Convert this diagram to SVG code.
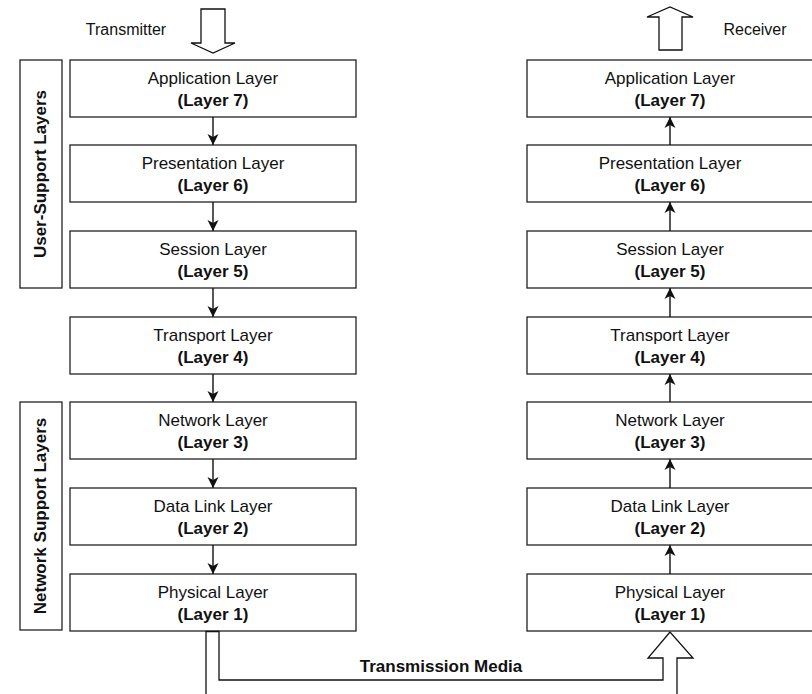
<svg xmlns="http://www.w3.org/2000/svg" width="812" height="694" viewBox="0 0 812 694">
<style>
.box{fill:#fff;stroke:#222;stroke-width:1.3}
.t{font-family:"Liberation Sans",Arial,sans-serif;font-size:17px;fill:#111;text-anchor:middle}
.b{font-weight:bold}
.c{stroke:#111;stroke-width:1.4;fill:none}
.big{fill:#fff;stroke:#111;stroke-width:1.3;stroke-linejoin:miter}
</style>
<defs>
<marker id="ah" markerWidth="12" markerHeight="12" viewBox="0 0 12 12" refX="11" refY="6" orient="auto" markerUnits="userSpaceOnUse">
<path d="M0,0.5 L11,6 L0,11.5 L3,6 Z" fill="#111"/>
</marker>
</defs>
<rect width="812" height="694" fill="#fff"/>

<g id="side-user">
<rect class="box" x="20" y="60" width="42" height="228"/>
<text class="t b" x="46" y="174" transform="rotate(-90 46 174)">User-Support Layers</text>
</g>
<g id="side-network">
<rect class="box" x="20" y="402" width="42" height="228"/>
<text class="t b" x="46" y="516" transform="rotate(-90 46 516)">Network Support Layers</text>
</g>

<g id="transmitter">
<path class="big" d="M201,9 H225 V43 H235 L213,53 L191,43 H201 Z"/>
<text class="t" x="126" y="35" style="font-size:16px">Transmitter</text>
</g>
<g id="receiver">
<path class="big" d="M659,50 V17 H647 L670,7 L693,17 H682 V50 Z"/>
<text class="t" x="755" y="35" style="font-size:16px">Receiver</text>
</g>

<g id="tx7"><rect class="box" x="70" y="60" width="286" height="57"/><text class="t" x="213" y="84">Application Layer</text><text class="t b" x="213" y="106">(Layer 7)</text></g>
<g id="tx6"><rect class="box" x="70" y="145" width="286" height="57"/><text class="t" x="213" y="169">Presentation Layer</text><text class="t b" x="213" y="191">(Layer 6)</text></g>
<g id="tx5"><rect class="box" x="70" y="231" width="286" height="57"/><text class="t" x="213" y="255">Session Layer</text><text class="t b" x="213" y="277">(Layer 5)</text></g>
<g id="tx4"><rect class="box" x="70" y="317" width="286" height="57"/><text class="t" x="213" y="341">Transport Layer</text><text class="t b" x="213" y="363">(Layer 4)</text></g>
<g id="tx3"><rect class="box" x="70" y="402" width="286" height="57"/><text class="t" x="213" y="426">Network Layer</text><text class="t b" x="213" y="448">(Layer 3)</text></g>
<g id="tx2"><rect class="box" x="70" y="488" width="286" height="57"/><text class="t" x="213" y="512">Data Link Layer</text><text class="t b" x="213" y="534">(Layer 2)</text></g>
<g id="tx1"><rect class="box" x="70" y="574" width="286" height="57"/><text class="t" x="213" y="598">Physical Layer</text><text class="t b" x="213" y="620">(Layer 1)</text></g>

<g id="rx7"><rect class="box" x="527" y="60" width="286" height="57"/><text class="t" x="670" y="84">Application Layer</text><text class="t b" x="670" y="106">(Layer 7)</text></g>
<g id="rx6"><rect class="box" x="527" y="145" width="286" height="57"/><text class="t" x="670" y="169">Presentation Layer</text><text class="t b" x="670" y="191">(Layer 6)</text></g>
<g id="rx5"><rect class="box" x="527" y="231" width="286" height="57"/><text class="t" x="670" y="255">Session Layer</text><text class="t b" x="670" y="277">(Layer 5)</text></g>
<g id="rx4"><rect class="box" x="527" y="317" width="286" height="57"/><text class="t" x="670" y="341">Transport Layer</text><text class="t b" x="670" y="363">(Layer 4)</text></g>
<g id="rx3"><rect class="box" x="527" y="402" width="286" height="57"/><text class="t" x="670" y="426">Network Layer</text><text class="t b" x="670" y="448">(Layer 3)</text></g>
<g id="rx2"><rect class="box" x="527" y="488" width="286" height="57"/><text class="t" x="670" y="512">Data Link Layer</text><text class="t b" x="670" y="534">(Layer 2)</text></g>
<g id="rx1"><rect class="box" x="527" y="574" width="286" height="57"/><text class="t" x="670" y="598">Physical Layer</text><text class="t b" x="670" y="620">(Layer 1)</text></g>

<g id="connectors">
<line class="c" x1="213" y1="117" x2="213" y2="145" marker-end="url(#ah)"/>
<line class="c" x1="213" y1="202" x2="213" y2="231" marker-end="url(#ah)"/>
<line class="c" x1="213" y1="288" x2="213" y2="317" marker-end="url(#ah)"/>
<line class="c" x1="213" y1="374" x2="213" y2="402" marker-end="url(#ah)"/>
<line class="c" x1="213" y1="459" x2="213" y2="488" marker-end="url(#ah)"/>
<line class="c" x1="213" y1="545" x2="213" y2="574" marker-end="url(#ah)"/>
<line class="c" x1="670" y1="145" x2="670" y2="117" marker-end="url(#ah)"/>
<line class="c" x1="670" y1="231" x2="670" y2="202" marker-end="url(#ah)"/>
<line class="c" x1="670" y1="317" x2="670" y2="288" marker-end="url(#ah)"/>
<line class="c" x1="670" y1="402" x2="670" y2="374" marker-end="url(#ah)"/>
<line class="c" x1="670" y1="488" x2="670" y2="459" marker-end="url(#ah)"/>
<line class="c" x1="670" y1="574" x2="670" y2="545" marker-end="url(#ah)"/>
<path id="media" class="big" d="M206,695 V631.5 H219 V680 H663 V658 H648 L670,632 L693,658 H677 V695"/>
<text class="t b" x="441" y="672">Transmission Media</text>
</g>
</svg>
